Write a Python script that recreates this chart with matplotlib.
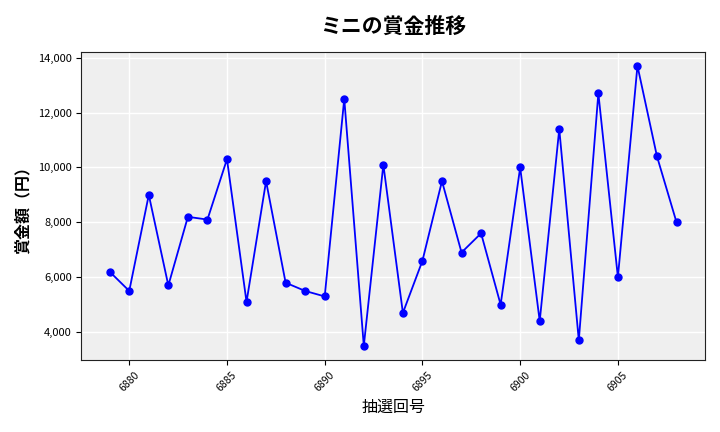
import matplotlib
matplotlib.use("Agg")
import matplotlib.pyplot as plt
from matplotlib.ticker import FuncFormatter

plt.rcParams['font.family'] = ['Noto Sans CJK JP', 'DejaVu Sans']

draws = list(range(6879, 6909))
prizes = [6200, 5500, 9000, 5700, 8200, 8100, 10300, 5100, 9500, 5800,
          5500, 5300, 12500, 3500, 10100, 4700, 6600, 9500, 6900, 7600,
          5000, 10000, 4400, 11400, 3700, 12700, 6000, 13700, 10400, 8000]

fig, ax = plt.subplots(figsize=(7.2, 4.32), dpi=100)
ax.set_facecolor('#efefef')
ax.grid(True, color='white', linewidth=1)
ax.set_axisbelow(True)

ax.plot(draws, prizes, color='blue', marker='o', markersize=5, linewidth=1.3)

ax.set_title('ミニの賞金推移', fontsize=15, fontweight='bold', pad=14)
ax.set_xlabel('抽選回号', fontsize=11.5, labelpad=4)
ax.set_ylabel('賞金額（円）', fontsize=11.5, fontweight='bold', labelpad=5)
ax.yaxis.set_major_formatter(FuncFormatter(lambda v, p: f'{int(v):,}'))
ax.tick_params(axis='x', labelsize=7.5, rotation=45)
ax.tick_params(axis='y', labelsize=8)
for s in ax.spines.values():
    s.set_color('#222222')

fig.subplots_adjust(left=0.113, right=0.979, top=0.88, bottom=0.167)
fig.savefig('out.png')
